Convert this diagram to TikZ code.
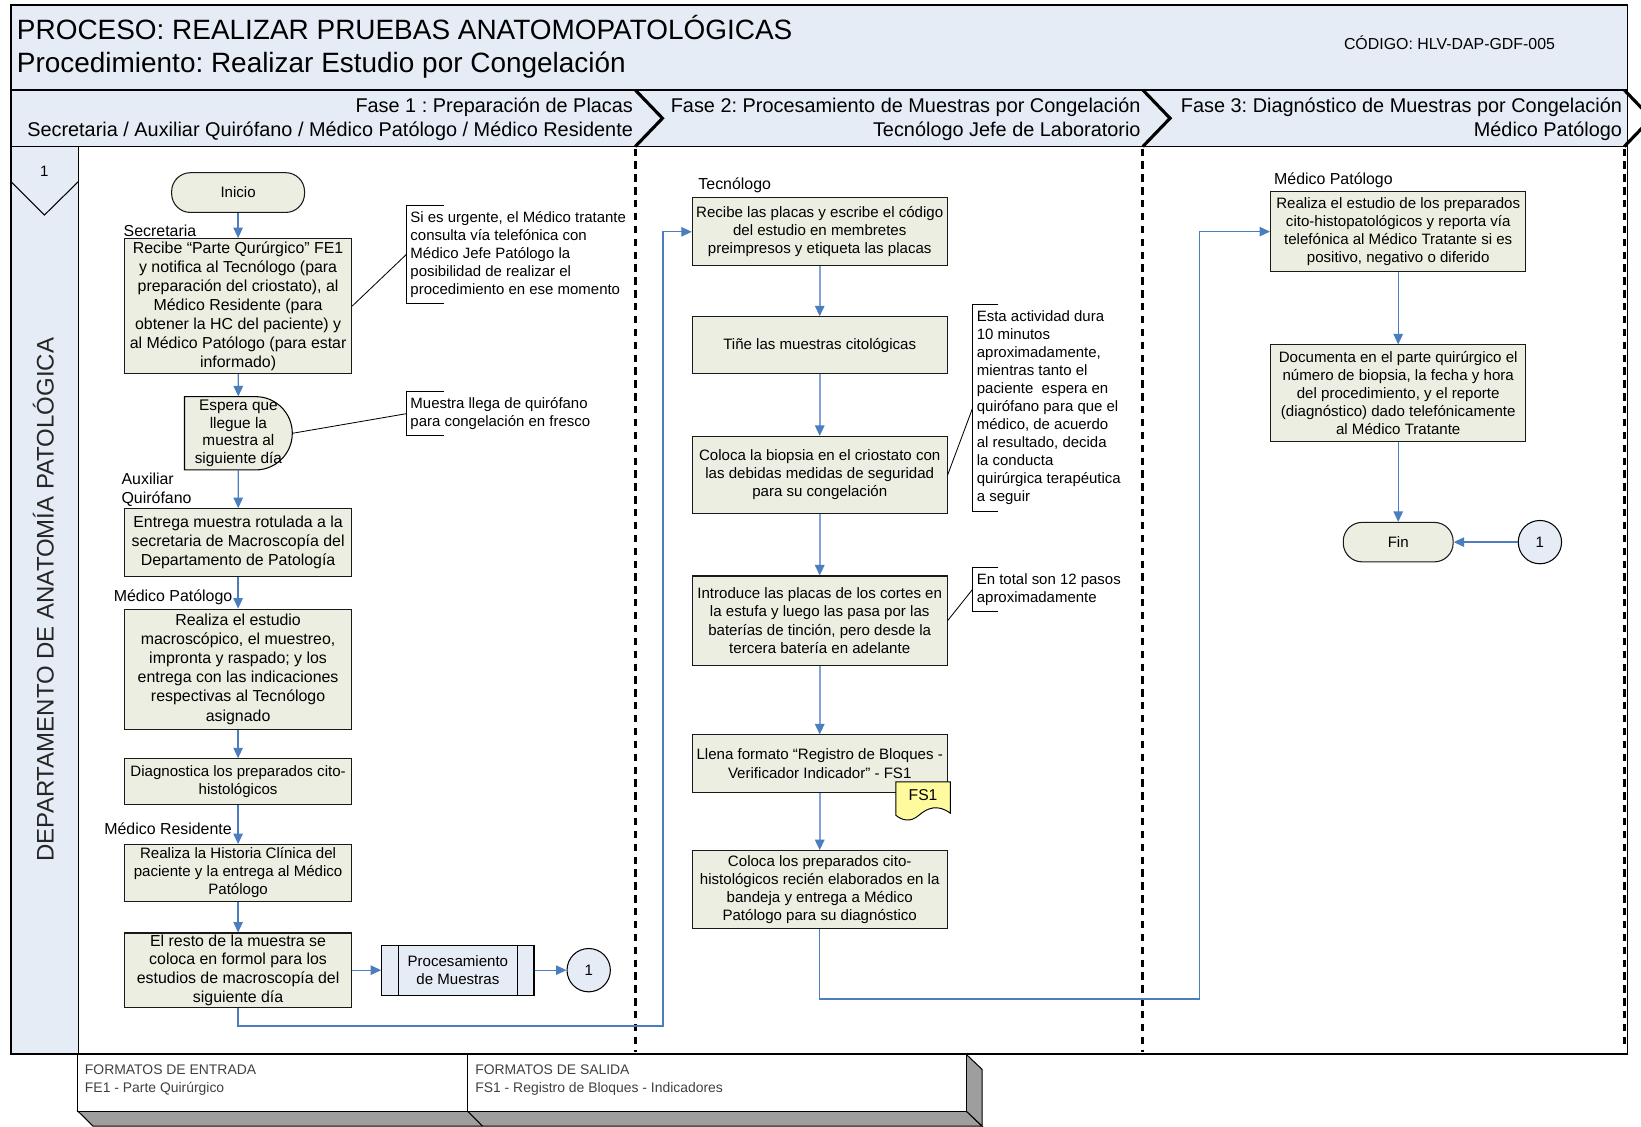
\documentclass[tikz,border=0pt]{standalone}
\usepackage{fontspec}
\setmainfont{Liberation Sans}
\usetikzlibrary{arrows.meta}
\frenchspacing

\definecolor{lane}{RGB}{230,236,246}
\definecolor{stepfill}{RGB}{237,238,226}
\definecolor{flow}{RGB}{74,126,190}
\definecolor{flowlight}{RGB}{128,164,218}
\definecolor{docfill}{RGB}{255,250,158}
\definecolor{footgray}{RGB}{158,158,158}
\definecolor{foottext}{RGB}{64,64,64}

\tikzset{
  stepbox/.style={draw=black!90, line width=1pt, fill=stepfill, align=center, inner sep=1pt},
  bigtxt/.style={font=\fontsize{15.2}{18.2}\selectfont},
  smalltxt/.style={font=\fontsize{14.4}{17.3}\selectfont},
  waittxt/.style={font=\fontsize{14.7}{17}\selectfont},
  notetxt/.style={font=\fontsize{14.3}{17.2}\selectfont, align=left, anchor=west, inner xsep=3.8pt, inner ysep=0pt},
  rolelbl/.style={font=\fontsize{15.2}{19}\selectfont, align=left, anchor=west, inner sep=0pt},
  bracket/.style={draw=black, line width=0.8pt},
  noteline/.style={draw=black, line width=0.8pt},
  flowarrow/.style={draw=flow, line width=1.2pt, -{Triangle[length=10pt,width=9pt]}},
  midarrow/.style={draw=flowlight, line width=1.7pt, -{Triangle[length=10pt,width=9pt,color=flow]}},
  chevron/.style={draw=black, line width=3pt, line join=miter},
  phasesep/.style={draw=black, line width=3pt, dash pattern=on 7pt off 5.3pt},
  connector/.style={circle, draw=black, line width=1pt, fill=lane, minimum size=41.4pt, inner sep=0pt, font=\fontsize{14.4}{17}\selectfont},
  phasetxt/.style={anchor=base east, inner sep=0pt, font=\fontsize{19}{23}\selectfont},
  foottxt/.style={anchor=base west, inner sep=0pt, text=foottext, font=\fontsize{13.3}{16}\selectfont}
}

\begin{document}
\begin{tikzpicture}[x=1pt,y=-1pt]
\useasboundingbox (0,0) rectangle (1568,1076);
\fill[white] (0,0) rectangle (1568,1076);

% ---------- header and phase band ----------
\draw[fill=lane, line width=1.2pt] (10.5,4.8) rectangle (1555,86);
\draw[fill=lane, line width=1.2pt] (10.5,86) rectangle (1555,140);

\node[anchor=base west, inner sep=0pt, font=\fontsize{26.7}{32}\selectfont] (title1) at (16,37.5)
  {PROCESO: REALIZAR PRUEBAS ANATOMOPATOLÓGICAS};
\node[anchor=base west, inner sep=0pt, font=\fontsize{26.7}{32}\selectfont] (title2) at (16,69)
  {Procedimiento: Realizar Estudio por Congelación};
\node[anchor=base west, inner sep=0pt, font=\fontsize{15.2}{18}\selectfont] (code) at (1284,47.4)
  {CÓDIGO: HLV-DAP-GDF-005};

\node[phasetxt] (ph1a) at (605,107.8) {Fase 1 : Preparación de Placas};
\node[phasetxt] (ph1b) at (605,130.8) {Secretaria / Auxiliar Quirófano / Médico Patólogo / Médico Residente};
\node[phasetxt] (ph2a) at (1090,107.8) {Fase 2: Procesamiento de Muestras por Congelación};
\node[phasetxt] (ph2b) at (1090,130.8) {Tecnólogo Jefe de Laboratorio};
\node[phasetxt] (ph3a) at (1550,107.8) {Fase 3: Diagnóstico de Muestras por Congelación};
\node[phasetxt] (ph3b) at (1550,130.8) {Médico Patólogo};

% ---------- pool and lane ----------
\draw[line width=1.2pt] (10.5,140) rectangle (1555,1007.4);
\draw[fill=lane, line width=1pt] (10.5,140) rectangle (74.8,1007.4);
\draw[line width=1pt] (10.5,173.6) -- (42.4,205.5) -- (74.8,173.6);
\node[inner sep=0pt, font=\fontsize{14.4}{17}\selectfont] (lanenum) at (42.4,164) {1};
\node[rotate=90, inner sep=0pt, text=black!85, font=\fontsize{22.9}{27}\selectfont] (dept) at (41.5,573)
  {DEPARTAMENTO DE ANATOMÍA PATOLÓGICA};

% phase separators
\draw[chevron] (607,86) -- (633,113) -- (607,140);
\draw[chevron] (1092,86) -- (1118,113) -- (1092,140);
\draw[chevron] (1552,86) -- (1578,113) -- (1552,140);
\draw[phasesep] (607,142) -- (607,1005);
\draw[phasesep] (1092,142) -- (1092,1005);
\draw[phasesep] (1552,142) -- (1552,1002);
\draw[line width=1.8pt] (10.5,1007.4) -- (1555,1007.4);

% ---------- footer ----------
\draw[fill=footgray, line width=1pt] (74.3,1061.6) -- (923.2,1061.6) -- (938.4,1076) -- (88.9,1076) -- cycle;
\draw[fill=footgray, line width=1pt] (923.2,1007.4) -- (938.4,1021.8) -- (938.4,1076) -- (923.2,1061.6) -- cycle;
\draw[line width=1pt] (446.7,1061.6) -- (461,1076);
\draw[fill=white, line width=1pt] (74.3,1007.4) rectangle (446.7,1061.6);
\draw[fill=white, line width=1pt] (446.7,1007.4) rectangle (923.2,1061.6);
\node[foottxt] (fin1) at (81,1026.7) {FORMATOS DE ENTRADA};
\node[foottxt] (fin2) at (81,1043.7) {FE1 - Parte Quirúrgico};
\node[foottxt] (fout1) at (454,1026.7) {FORMATOS DE SALIDA};
\node[foottxt] (fout2) at (454,1043.7) {FS1 - Registro de Bloques - Indicadores};

% ---------- phase 1 ----------
\node[stepbox, rounded corners=18pt, minimum width=127pt, minimum height=38pt, smalltxt] (ini) at (227.5,184) {Inicio};

\node[rolelbl] (rsec) at (118,220.4) {Secretaria};
\node[stepbox, bigtxt, minimum width=217pt, minimum height=129pt] (b1) at (227.5,292.5)
  {Recibe “Parte Qurúrgico” FE1\\y notifica al Tecnólogo (para\\preparación del criostato), al\\Médico Residente (para\\obtener la HC del paciente) y\\al Médico Patólogo (para estar\\informado)};

% delay step
\draw[fill=stepfill, line width=1pt] (176.3,379) -- (244.3,379)
  arc[start angle=90, end angle=-90, radius=35pt] -- (176.3,449) -- cycle;
\node[waittxt, align=center, inner sep=0pt, minimum width=103pt, minimum height=70pt] (esp) at (227.8,414)
  {Espera que\\llegue la\\muestra al\\siguiente día};

\node[rolelbl] (raux) at (116,468) {Auxiliar\\Quirófano};
\node[stepbox, bigtxt, minimum width=217pt, minimum height=65pt] (b3) at (227.5,518.5)
  {Entrega muestra rotulada a la\\secretaria de Macroscopía del\\Departamento de Patología};

\node[rolelbl] (rpat) at (108.5,571) {Médico Patólogo};
\node[stepbox, bigtxt, minimum width=217pt, minimum height=115pt] (b4) at (227.5,639.5)
  {Realiza el estudio\\macroscópico, el muestreo,\\impronta y raspado; y los\\entrega con las indicaciones\\respectivas al Tecnólogo\\asignado};
\node[stepbox, smalltxt, minimum width=217pt, minimum height=44pt] (b5) at (227.5,747)
  {Diagnostica los preparados cito-\\histológicos};

\node[rolelbl] (rres) at (99.5,792) {Médico Residente};
\node[stepbox, smalltxt, minimum width=217pt, minimum height=54pt] (b6) at (227.5,834)
  {Realiza la Historia Clínica del\\paciente y la entrega al Médico\\Patólogo};
\node[stepbox, inner sep=0pt, font=\fontsize{15.2}{17.9}\selectfont, minimum width=217pt, minimum height=71pt] (b7) at (227.5,927)
  {El resto de la muestra se\\coloca en formol para los\\estudios de macroscopía del\\siguiente día};

\node[draw=black, line width=1pt, fill=lane, minimum width=145.5pt, minimum height=47.7pt, inner sep=0pt,
      align=center, smalltxt] (sub) at (437.5,927) {Procesamiento\\de Muestras};
\draw[line width=1pt] ([xshift=16.5pt]sub.north west) -- ([xshift=16.5pt]sub.south west);
\draw[line width=1pt] ([xshift=-16pt]sub.north east) -- ([xshift=-16pt]sub.south east);
\node[connector] (c1) at (562.5,927) {1};

% annotations, phase 1
\node[notetxt, minimum height=93.3pt] (n1) at (388.2,243.2)
  {Si es urgente, el Médico tratante\\consulta vía telefónica con\\Médico Jefe Patólogo la\\posibilidad de realizar el\\procedimiento en ese momento};
\draw[bracket] ([xshift=35.7pt]n1.north west) -- (n1.north west) -- (n1.south west) -- ([xshift=35.7pt]n1.south west);
\draw[noteline] (b1.east) -- (n1.west);

\node[notetxt, minimum height=42pt] (n2) at (388.2,395.3)
  {Muestra llega de quirófano\\para congelación en fresco};
\draw[bracket] ([xshift=35.7pt]n2.north west) -- (n2.north west) -- (n2.south west) -- ([xshift=35.7pt]n2.south west);
\draw[noteline] (esp.east) -- (n2.west);

% flow, phase 1
\draw[flowarrow] (ini) -- (b1);
\draw[flowarrow] (b1) -- (esp);
\draw[flowarrow] (esp) -- (b3);
\draw[flowarrow] (b3) -- (b4);
\draw[flowarrow] (b4) -- (b5);
\draw[flowarrow] (b5) -- (b6);
\draw[flowarrow] (b6) -- (b7);
\draw[flowarrow] (b7) -- (sub);
\draw[flowarrow] (sub) -- (c1);

% ---------- phase 2 ----------
\node[rolelbl] (rtec) at (667.2,177.4) {Tecnólogo};
\node[stepbox, smalltxt, minimum width=243.5pt, minimum height=65pt] (m1) at (783.25,221.5)
  {Recibe las placas y escribe el código\\del estudio en membretes\\preimpresos y etiqueta las placas};
\node[stepbox, smalltxt, minimum width=243.5pt, minimum height=54pt] (m2) at (783.25,329.7)
  {Tiñe las muestras citológicas};
\node[stepbox, smalltxt, minimum width=243.5pt, minimum height=73.5pt] (m3) at (783.25,453.75)
  {Coloca la biopsia en el criostato con\\las debidas medidas de seguridad\\para su congelación};
\node[stepbox, smalltxt, minimum width=243.5pt, minimum height=85.3pt] (m4) at (783.25,593)
  {Introduce las placas de los cortes en\\la estufa y luego las pasa por las\\baterías de tinción, pero desde la\\tercera batería en adelante};
\node[stepbox, smalltxt, minimum width=243.5pt, minimum height=54.7pt] (m5) at (783.25,729.6)
  {Llena formato “Registro de Bloques -\\Verificador Indicador” - FS1};
\node[stepbox, smalltxt, minimum width=243.5pt, minimum height=74.8pt] (m6) at (783.25,850.2)
  {Coloca los preparados cito-\\histológicos recién elaborados en la\\bandeja y entrega a Médico\\Patólogo para su diagnóstico};

% output document
\draw[fill=docfill, line width=0.9pt] (856,747) -- (908,747) -- (908,777)
  .. controls (896,768) and (886,772) .. (878,779)
  .. controls (870,786) and (862,784) .. (856,779) -- cycle;
\node[inner sep=0pt, font=\fontsize{15}{17}\selectfont] (fs1) at (882,759.5) {FS1};

% annotations, phase 2
\node[notetxt, minimum height=196.6pt] (n3) at (929.4,389.7)
  {Esta actividad dura\\10 minutos\\aproximadamente,\\mientras tanto el\\paciente~ espera en\\quirófano para que el\\médico, de acuerdo\\al resultado, decida\\la conducta\\quirúrgica terapéutica\\a seguir};
\draw[bracket] ([xshift=24.5pt]n3.north west) -- (n3.north west) -- (n3.south west) -- ([xshift=24.5pt]n3.south west);
\draw[noteline] (m3.east) -- (n3.west);

\node[notetxt, minimum height=42pt] (n4) at (929.4,563)
  {En total son 12 pasos\\aproximadamente};
\draw[bracket] ([xshift=24.5pt]n4.north west) -- (n4.north west) -- (n4.south west) -- ([xshift=24.5pt]n4.south west);
\draw[noteline] (m4.east) -- (n4.west);

% flow, phase 2
\coordinate (j1) at (633.6,980.3);
\draw[flowarrow] (b7.south) |- (j1) |- (m1.west);
\draw[midarrow] (m1) -- (m2);
\draw[midarrow] (m2) -- (m3);
\draw[midarrow] (m3) -- (m4);
\draw[midarrow] (m4) -- (m5);
\draw[midarrow] (m5) -- (m6);

% ---------- phase 3 ----------
\node[rolelbl] (rpat2) at (1217.3,172.6) {Médico Patólogo};
\node[stepbox, smalltxt, minimum width=244pt, minimum height=76.6pt] (r1) at (1336,221.3)
  {Realiza el estudio de los preparados\\cito-histopatológicos y reporta vía\\telefónica al Médico Tratante si es\\positivo, negativo o diferido};
\node[stepbox, smalltxt, minimum width=244pt, minimum height=92.4pt] (r2) at (1336,375.8)
  {Documenta en el parte quirúrgico el\\número de biopsia, la fecha y hora\\del procedimiento, y el reporte\\(diagnóstico) dado telefónicamente\\al Médico Tratante};
\node[stepbox, rounded corners=18pt, minimum width=105pt, minimum height=37.7pt, smalltxt] (fin) at (1336,518) {Fin};
\node[connector] (c2) at (1471.4,518) {1};

% flow, phase 3
\coordinate (j2) at (1146,954.5);
\draw[flowarrow] (m6.south) |- (j2) |- (r1.west);
\draw[flowarrow] (r1) -- (r2);
\draw[flowarrow] (r2) -- (fin);
\draw[flowarrow] (c2) -- (fin);
\end{tikzpicture}
\end{document}
